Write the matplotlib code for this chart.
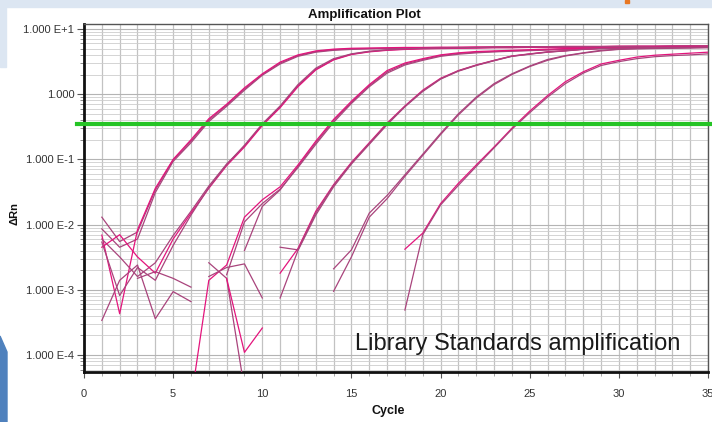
import numpy as np
import matplotlib
matplotlib.use("Agg")
import matplotlib.pyplot as plt
from matplotlib.patches import Rectangle, Polygon
from matplotlib.ticker import FixedLocator, FuncFormatter

plt.rcParams['font.family'] = ['Liberation Sans', 'DejaVu Sans']

# delta Rn per cycle (cycles 1..35), None = not plotted (<= 0)
cycles = list(range(1, 36))
n = None

std1_a = [0.013, 0.0055, 0.0077, 0.034, 0.098, 0.19, 0.40, 0.68, 1.2, 2.0, 3.0, 3.9, 4.5, 4.8, 4.95, 5.0, 5.05, 5.1,
          5.1, 5.15, 5.2, 5.2, 5.25, 5.25, 5.3, 5.3, 5.3, 5.35, 5.35, 5.35, 5.4, 5.4, 5.4, 5.45, 5.45]
std1_b = [0.0086, 0.0045, 0.0060, 0.031, 0.093, 0.18, 0.38, 0.65, 1.15, 1.95, 2.9, 3.8, 4.4, 4.7, 4.85, 4.95, 5.0,
          5.05, 5.05, 5.1, 5.15, 5.15, 5.2, 5.2, 5.25, 5.25, 5.25, 5.3, 5.3, 5.3, 5.35, 5.35, 5.35, 5.4, 5.4]
std1_c = [0.0069, 0.00043, 0.0083, 0.036, 0.10, 0.20, 0.42, 0.70, 1.25, 2.05, 3.1, 4.0, 4.6, 4.9, 5.05, 5.1, 5.15,
          5.2, 5.2, 5.25, 5.25, 5.3, 5.3, 5.35, 5.35, 5.35, 5.4, 5.4, 5.4, 5.45, 5.45, 5.45, 5.5, 5.5, 5.5]

std2_a = [0.0060, 0.0032, 0.0016, 0.0026, 0.0068, 0.016, 0.039, 0.085, 0.16, 0.34, 0.64, 1.35, 2.4, 3.4, 4.1, 4.5,
          4.75, 4.9, 5.0, 5.05, 5.1, 5.15, 5.2, 5.2, 5.25, 5.25, 5.3, 5.3, 5.3, 5.35, 5.35, 5.35, 5.4, 5.4, 5.4]
std2_b = [0.0045, 0.0070, 0.0032, 0.0018, 0.0060, 0.015, 0.036, 0.080, 0.155, 0.33, 0.62, 1.3, 2.35, 3.35, 4.05,
          4.45, 4.7, 4.85, 4.95, 5.0, 5.05, 5.1, 5.15, 5.15, 5.2, 5.2, 5.25, 5.25, 5.25, 5.3, 5.3, 5.3, 5.35, 5.35, 5.35]
std2_c = [0.0054, 0.00082, 0.0022, 0.0014, 0.0048, 0.014, 0.037, 0.083, 0.165, 0.35, 0.66, 1.4, 2.5, 3.5, 4.15, 4.55,
          4.8, 4.95, 5.05, 5.1, 5.15, 5.2, 5.25, 5.25, 5.3, 5.3, 5.35, 5.35, 5.35, 5.4, 5.4, 5.4, 5.45, 5.45, 5.45]

std3_a = [0.00034, 0.0014, 0.0024, 0.00036, 0.00094, 0.00066, n, 0.0017, 0.011, 0.021, 0.035, 0.075, 0.17, 0.37,
          0.72, 1.3, 2.1, 2.8, 3.3, 3.8, 4.1, 4.3, 4.45, 4.55, 4.65, 4.75, 4.85, 4.95, 5.0, 5.05, 5.1, 5.15, 5.2, 5.2,
          5.25]
std3_b = [n, n, 0.0015, 0.0019, 0.0015, 0.0011, n, n, 0.0040, 0.019, 0.034, 0.078, 0.18, 0.39, 0.75, 1.35, 2.2,
          2.9, 3.4, 3.9, 4.2, 4.4, 4.5, 4.6, 4.7, 4.8, 4.9, 5.0, 5.05, 5.1, 5.15, 5.2, 5.25, 5.25, 5.3]
std3_c = [n, n, n, n, n, 0.00002, 0.0014, 0.0024, 0.013, 0.024, 0.038, 0.082, 0.19, 0.41, 0.78, 1.4, 2.3, 3.0, 3.5,
          4.0, 4.3, 4.5, 4.6, 4.7, 4.8, 4.9, 5.0, 5.05, 5.1, 5.15, 5.2, 5.25, 5.3, 5.3, 5.35]

std4_a = [n, n, n, n, n, n, n, n, n, n, 0.00075, 0.0040, 0.014, 0.038, 0.085, 0.17, 0.34, 0.64, 1.1, 1.7, 2.25,
          2.75, 3.25, 3.8, 4.1, 4.4, 4.6, 4.85, 5.0, 5.05, 5.1, 5.15, 5.2, 5.2, 5.25]
std4_b = [n, n, n, n, n, n, n, n, n, n, 0.0018, 0.0043, 0.016, 0.041, 0.09, 0.18, 0.36, 0.66, 1.15, 1.75, 2.3, 2.8,
          3.3, 3.85, 4.15, 4.45, 4.65, 4.9, 5.05, 5.1, 5.15, 5.2, 5.25, 5.25, 5.3]
std4_c = [n, n, n, n, n, n, n, n, n, n, 0.0045, 0.0041, 0.015, 0.040, 0.087, 0.175, 0.35, 0.65, 1.12, 1.72, 2.28,
          2.78, 3.28, 3.82, 4.12, 4.42, 4.62, 4.88, 5.02, 5.08, 5.12, 5.18, 5.22, 5.22, 5.28]

std5_a = [n, n, n, n, n, n, 0.0026, 0.0015, 0.00003, n, n, n, n, 0.0021, 0.0041, 0.015, 0.028, 0.058, 0.12, 0.25,
          0.50, 0.9, 1.45, 2.05, 2.7, 3.4, 3.9, 4.3, 4.7, 4.9, 5.0, 5.05, 5.1, 5.15, 5.2]
std5_b = [n, n, n, n, n, n, 0.0016, 0.0022, 0.0025, 0.00075, n, n, n, 0.00095, 0.0032, 0.013, 0.025, 0.055, 0.115,
          0.24, 0.48, 0.87, 1.4, 2.0, 2.65, 3.3, 3.85, 4.25, 4.6, 4.85, 4.95, 5.0, 5.05, 5.1, 5.15]

std6_a = [n, n, n, n, n, n, n, 0.0015, 0.00011, 0.00026, n, n, n, n, n, n, n, 0.0042, 0.0074, 0.021, 0.043, 0.082,
          0.155, 0.30, 0.55, 0.95, 1.55, 2.2, 2.9, 3.3, 3.7, 3.95, 4.1, 4.25, 4.4]
std6_b = [n, n, n, n, n, n, n, n, n, n, n, n, n, n, n, n, n, 0.00049, 0.0070, 0.020, 0.040, 0.078, 0.15, 0.29,
          0.52, 0.9, 1.45, 2.1, 2.75, 3.15, 3.5, 3.75, 3.9, 4.0, 4.15]

threshold = 0.35

curves = [std1_a, std1_b, std1_c, std2_a, std2_b, std2_c, std3_a, std3_b, std3_c,
          std4_a, std4_b, std4_c, std5_a, std5_b, std6_a, std6_b]
colors = ['#e3147c', '#a9447c']

fig = plt.figure(figsize=(7.12, 4.22), dpi=100)

# slide decorations around the screenshot
fig.patches.append(Rectangle((0, 1 - 7 / 422), 1, 7 / 422, transform=fig.transFigure,
                             color='#dce6f2', zorder=0))
fig.patches.append(Rectangle((0, 1 - 67 / 422), 6 / 712, 67 / 422, transform=fig.transFigure,
                             color='#dce6f2', zorder=0))
fig.patches.append(Rectangle((625 / 712, 1 - 3 / 422), 4 / 712, 3 / 422, transform=fig.transFigure,
                             color='#e87722', zorder=0))
fig.patches.append(Polygon([(0, 0), (7 / 712, 0), (7 / 712, 1 - 352 / 422), (0, 1 - 336 / 422)],
                           closed=True, transform=fig.transFigure, color='#4f81bd', zorder=0))

ax = fig.add_axes([84 / 712, 1 - 372 / 422, 624 / 712, 348 / 422])
ax.set_yscale('log')
ax.set_xlim(0, 35)
ax.set_ylim(5.5e-5, 11.9)

ax.xaxis.set_major_locator(FixedLocator(range(0, 36, 5)))
ax.xaxis.set_minor_locator(FixedLocator(range(0, 36)))
ax.grid(True, which='minor', axis='x', color='#c2c2c2', lw=0.9)
ax.grid(True, which='major', axis='x', color='#c2c2c2', lw=0.9)
ax.grid(True, which='major', axis='y', color='#b4b4b4', lw=0.8)
ax.grid(True, which='minor', axis='y', color='#cdcdcd', lw=0.6)
ax.set_axisbelow(True)


def sci(v, pos):
    e = int(round(np.log10(v)))
    if e == 0:
        return '1.000'
    return '1.000 E%+d' % e


ax.yaxis.set_major_formatter(FuncFormatter(sci))
ax.yaxis.set_minor_formatter(FuncFormatter(lambda v, p: ''))
ax.tick_params(axis='both', which='major', labelsize=8, labelcolor='#333333', color='#555555')
ax.tick_params(axis='y', which='major', length=5, width=0.8, pad=2)
ax.tick_params(axis='y', which='minor', length=3, width=0.6, color='#777777')
ax.tick_params(axis='x', which='major', length=4, pad=8)
ax.tick_params(axis='x', which='minor', length=3, color='#999999')

for s in ['left', 'bottom']:
    ax.spines[s].set_linewidth(2)
    ax.spines[s].set_color('#111111')
for s in ['top', 'right']:
    ax.spines[s].set_linewidth(1)
    ax.spines[s].set_color('#555555')

x = np.array(cycles, dtype=float)
for i, c in enumerate(curves):
    y = np.array(c, dtype=float)
    ax.plot(x, y, color=colors[i % 2 if i % 3 else 1], lw=0.9, zorder=3)

ax.axhline(threshold, xmin=-0.011, xmax=1.02, color='#25c425', lw=3, zorder=4, clip_on=False)

ax.text(355 / 712, 1 - 350 / 422, 'Library Standards amplification', transform=fig.transFigure,
        fontsize=17, color='#1a1a1a', va='baseline', ha='left', zorder=5)

fig.text(364 / 712, 1 - 15 / 422, 'Amplification Plot', ha='center', va='center',
         fontsize=9.5, fontweight='bold', color='#111111')
fig.text(15 / 712, 1 - 213 / 422, '\u0394Rn', rotation=90, ha='center', va='center',
         fontsize=8, fontweight='bold', color='#111111')
fig.text(388 / 712, 1 - 411 / 422, 'Cycle', ha='center', va='center',
         fontsize=9, fontweight='bold', color='#111111')

fig.savefig('out.png', dpi=100)
